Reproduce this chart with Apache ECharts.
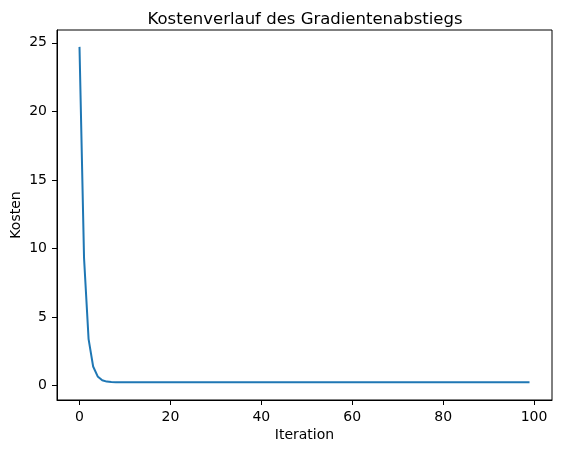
<!DOCTYPE html>
<html>
<head>
<meta charset="utf-8">
<script src="https://cdn.jsdelivr.net/npm/echarts@6/dist/echarts.min.js"></script>
<style>
  html, body { margin: 0; padding: 0; background: #fff; }
  #chart { width: 563px; height: 453px; }
</style>
</head>
<body>
<div id="chart"></div>
<script>
// Kosten pro Iteration
const iterations = Array.from({ length: 100 }, (_, i) => i)
const costs = [
  24.7, 9.3, 3.4, 1.4, 0.68, 0.40, 0.30, 0.27, 0.26, 0.25,
  0.25, 0.25, 0.25, 0.25, 0.25, 0.25, 0.25, 0.25, 0.25, 0.25,
  0.25, 0.25, 0.25, 0.25, 0.25, 0.25, 0.25, 0.25, 0.25, 0.25,
  0.25, 0.25, 0.25, 0.25, 0.25, 0.25, 0.25, 0.25, 0.25, 0.25,
  0.25, 0.25, 0.25, 0.25, 0.25, 0.25, 0.25, 0.25, 0.25, 0.25,
  0.25, 0.25, 0.25, 0.25, 0.25, 0.25, 0.25, 0.25, 0.25, 0.25,
  0.25, 0.25, 0.25, 0.25, 0.25, 0.25, 0.25, 0.25, 0.25, 0.25,
  0.25, 0.25, 0.25, 0.25, 0.25, 0.25, 0.25, 0.25, 0.25, 0.25,
  0.25, 0.25, 0.25, 0.25, 0.25, 0.25, 0.25, 0.25, 0.25, 0.25,
  0.25, 0.25, 0.25, 0.25, 0.25, 0.25, 0.25, 0.25, 0.25, 0.25
]
const xTicks = [0, 20, 40, 60, 80, 100]
const yTicks = [0, 5, 10, 15, 20, 25]

const font = 'DejaVu Sans'
const myChart = echarts.init(document.getElementById('chart'))

const axisCommon = {
  type: 'value',
  splitLine: { show: false },
  axisLine: { show: true, onZero: false, lineStyle: { color: '#000', width: 1 } },
  axisTick: { show: true, inside: false, length: 5, lineStyle: { color: '#000', width: 1 } },
  axisLabel: { color: '#000', fontFamily: font, fontSize: 14, margin: 10 },
  nameTextStyle: { color: '#000', fontFamily: font, fontSize: 14 },
  nameLocation: 'middle',
  nameMoveOverlap: false
}

const options = {
  animation: false,
  backgroundColor: '#fff',
  title: {
    text: 'Kostenverlauf des Gradientenabstiegs',
    left: 300,
    top: 6,
    textAlign: 'center',
    textStyle: { fontFamily: font, fontSize: 16.5, fontWeight: 'normal', color: '#000' }
  },
  grid: {
    left: 57,
    right: 11,
    top: 30,
    bottom: 53,
    outerBoundsMode: 'none',
    containLabel: false,
    show: true,
    borderColor: '#000',
    borderWidth: 1
  },
  xAxis: {
    ...axisCommon,
    min: -4.95,
    max: 103.95,
    name: 'Iteration',
    nameGap: 28,
    axisTick: { ...axisCommon.axisTick, customValues: xTicks },
    axisLabel: { ...axisCommon.axisLabel, customValues: xTicks }
  },
  yAxis: {
    ...axisCommon,
    min: -1.04,
    max: 25.93,
    name: 'Kosten',
    nameGap: 34,
    axisTick: { ...axisCommon.axisTick, customValues: yTicks },
    axisLabel: { ...axisCommon.axisLabel, customValues: yTicks }
  },
  series: [
    {
      type: 'line',
      data: iterations.map((it, i) => [it, costs[i]]),
      showSymbol: false,
      lineStyle: { color: '#1f77b4', width: 2 },
      itemStyle: { color: '#1f77b4' }
    }
  ]
}
myChart.setOption(options)
</script>
</body>
</html>
